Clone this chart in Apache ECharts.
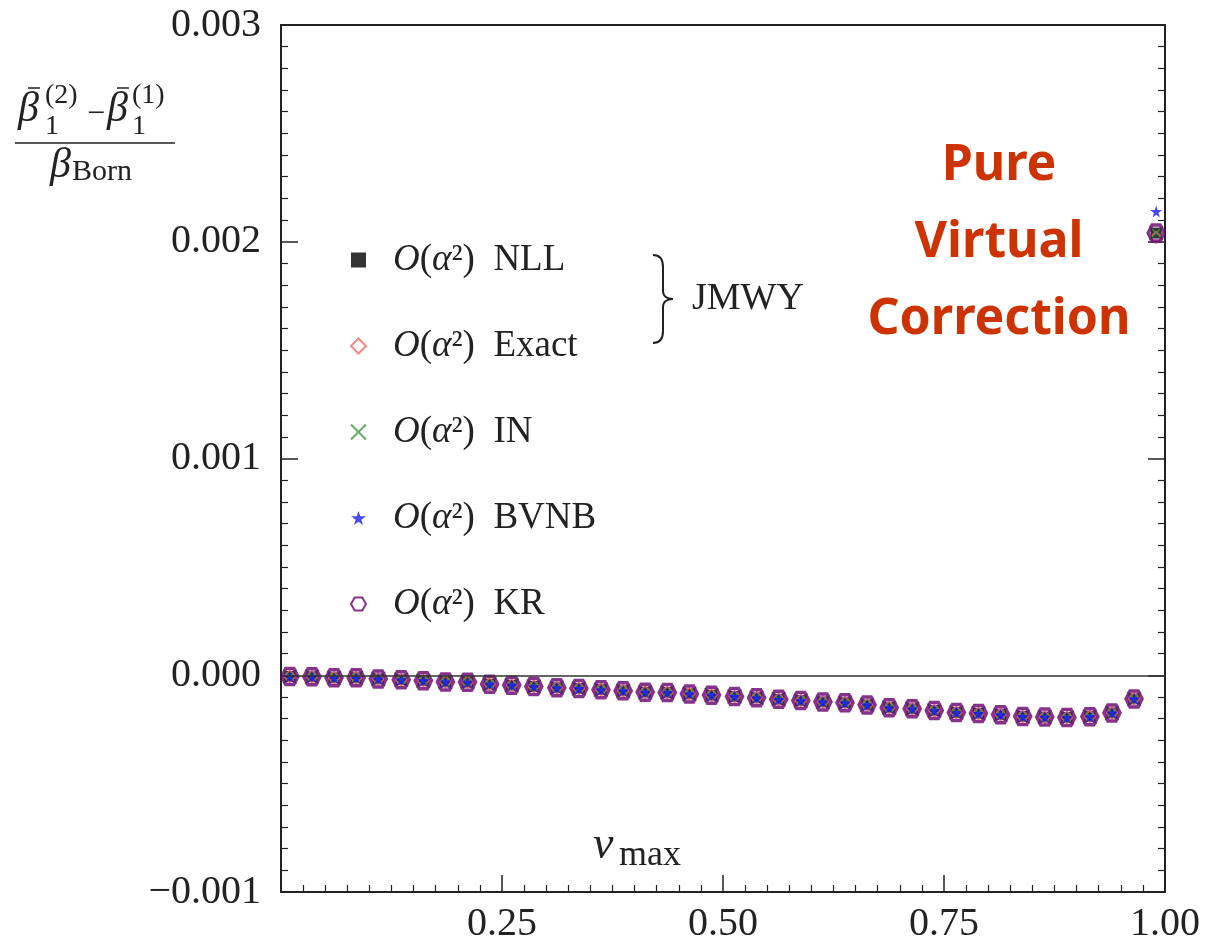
<!DOCTYPE html>
<html>
<head>
<meta charset="utf-8">
<script src="https://cdn.jsdelivr.net/npm/echarts@6.0.0/dist/echarts.min.js"></script>
<style>
  html, body { margin: 0; padding: 0; background: #fff; }
  #main { width: 1212px; height: 944px; }
</style>
</head>
<body>
<div id="main"></div>
<script>
// v_max sample points
const vmax = [0.010, 0.035, 0.060, 0.085, 0.110, 0.136, 0.161, 0.186, 0.211, 0.236,
              0.261, 0.286, 0.312, 0.337, 0.362, 0.387, 0.412, 0.437, 0.462, 0.487,
              0.513, 0.538, 0.563, 0.588, 0.613, 0.638, 0.663, 0.688, 0.714, 0.739,
              0.764, 0.789, 0.814, 0.839, 0.864, 0.889, 0.915, 0.940, 0.965, 0.990];
// all five calculations sit on top of each other below v=0.99
const curve = [-0.000006, -0.000007, -0.000012, -0.000012, -0.000017, -0.000021, -0.000025, -0.000031, -0.000032, -0.000041,
               -0.000046, -0.000052, -0.000058, -0.000061, -0.000067, -0.000072, -0.000078, -0.000080, -0.000086, -0.000092,
               -0.000098, -0.000104, -0.000111, -0.000117, -0.000123, -0.000127, -0.000137, -0.000150, -0.000155, -0.000163,
               -0.000172, -0.000176, -0.000182, -0.000190, -0.000193, -0.000195, -0.000191, -0.000174, -0.000109];
// value at the last point (pure virtual correction), per series
const seriesNames = ['NLL', 'Exact', 'IN', 'BVNB', 'KR'];
const lastValues  = [0.00204, 0.00202, 0.00204, 0.00214, 0.00204];
const yTicks = [-0.001, 0.003, 0.001];   // min, max, interval
const xTicks = [0, 1, 0.25];

const serif = '"Liberation Serif", "DejaVu Serif", serif';
const ink = '#222';

function pts(k) {
  return vmax.map((x, i) => [x, i < curve.length ? curve[i] : lastValues[k]]);
}

const STAR = 'path://M50,0L61,35L98,35L68,57L79,91L50,70L21,91L32,57L2,35L39,35Z';
const HEX = 'path://M25,0L75,0L100,43L75,87L25,87L0,43Z';
const CROSS = 'path://M0,0L10,10M0,10L10,0';

const styles = [
  { symbol: 'rect', symbolSize: 11, z: 2, itemStyle: { color: '#000' } },
  { symbol: 'diamond', symbolSize: 12, z: 2, itemStyle: { color: 'rgba(255,255,255,0)', borderColor: '#f06a6a', borderWidth: 1.5 } },
  { symbol: CROSS, symbolSize: 14, z: 2, itemStyle: { color: 'rgba(255,255,255,0)', borderColor: '#3c9a3c', borderWidth: 1.5 } },
  { symbol: STAR, symbolSize: 12, z: 4, itemStyle: { color: '#1a1aff' } },
  { symbol: HEX, symbolSize: 16, z: 3, itemStyle: { color: 'rgba(255,255,255,0)', borderColor: '#68006e', borderWidth: 3.5 } }
];

const series = seriesNames.map((name, k) => Object.assign({
  name: name,
  type: 'scatter',
  data: pts(k),
  emphasis: { disabled: true },
  silent: true
}, styles[k]));

series[0].markLine = {
  silent: true,
  symbol: ['none', 'none'],
  label: { show: false },
  lineStyle: { color: '#333', width: 1.5, type: 'solid' },
  data: [{ yAxis: 0 }]
};

function t(text, x, y, size, opts) {
  return {
    type: 'text', silent: true,
    style: Object.assign({
      text: text, x: x, y: y,
      font: size + 'px ' + serif,
      fill: ink, verticalAlign: 'middle'
    }, opts || {})
  };
}
function it(text, x, y, size) {
  return t(text, x, y, size, { font: 'italic ' + size + 'px ' + serif });
}
function ln(x1, y1, x2, y2, w) {
  return { type: 'line', silent: true, shape: { x1: x1, y1: y1, x2: x2, y2: y2 }, style: { stroke: ink, lineWidth: w || 1.5 } };
}
function bz(x1, y1, cx1, cy1, cx2, cy2, x2, y2) {
  return {
    type: 'bezierCurve', silent: true,
    shape: { x1: x1, y1: y1, cpx1: cx1, cpy1: cy1, cpx2: cx2, cpy2: cy2, x2: x2, y2: y2 },
    style: { stroke: ink, lineWidth: 2, fill: 'none' }
  };
}

const graphics = [
  // y-axis title as a fraction
  it('β', 18, 110, 42), ln(28, 88, 40, 88, 1.5),
  t('(2)', 45, 96, 28), t('1', 45, 127, 28),
  t('−', 87, 115, 32),
  it('β', 107, 110, 42), ln(117, 88, 129, 88, 1.5),
  t('(1)', 132, 96, 28), t('1', 132, 127, 28),
  ln(15, 143, 175, 143, 1.5),
  it('β', 50, 166, 42), t('Born', 72, 172, 30),
  // x-axis title
  it('v', 593, 846, 46), t('max', 619, 856, 36),
  // brace + JMWY
  bz(653, 255, 660, 255, 663, 259, 663, 267),
  ln(663, 267, 663, 291, 2),
  bz(663, 291, 663, 296, 667, 299, 673, 299),
  bz(673, 299, 667, 299, 663, 302, 663, 307),
  ln(663, 307, 663, 331, 2),
  bz(663, 331, 663, 339, 660, 343, 653, 343),
  t('JMWY', 692, 299, 38),
  // annotation
  {
    type: 'text', silent: true,
    style: {
      text: 'Pure\nVirtual\nCorrection',
      x: 999, y: 243, align: 'center', verticalAlign: 'middle',
      font: 'bold 50px "Comic Sans MS", "Noto Sans", sans-serif',
      lineHeight: 77, fill: '#cc3300'
    }
  }
];

const sideAxis = {
  axisLine: { show: true, onZero: false, lineStyle: { color: ink, width: 2 } },
  axisTick: { show: true, inside: true, length: 17, lineStyle: { color: ink, width: 1.5 } },
  minorTick: { show: true, splitNumber: 10, length: 7, lineStyle: { color: ink, width: 1.2 } },
  splitLine: { show: false }
};

const chart = echarts.init(document.getElementById('main'), null, { renderer: 'canvas' });
chart.setOption({
  animation: false,
  backgroundColor: '#fff',
  grid: { left: 281, right: 47, top: 25, bottom: 51 },
  legend: {
    data: seriesNames,
    orient: 'vertical',
    left: 345, top: 235,
    itemWidth: 15, itemHeight: 15, itemGap: 46,
    selectedMode: false,
    formatter: n => '{i|O}({i|α}²)  ' + n,
    textStyle: {
      fontFamily: serif, fontSize: 37, color: ink, lineHeight: 40,
      padding: [0, 0, 0, 22],
      rich: { i: { fontFamily: serif, fontSize: 37, fontStyle: 'italic', color: ink } }
    }
  },
  xAxis: [Object.assign({
    type: 'value', min: xTicks[0], max: xTicks[1], interval: xTicks[2],
    axisLabel: {
      showMinLabel: false, margin: 12,
      fontFamily: serif, fontSize: 40, color: ink,
      formatter: v => v.toFixed(2)
    }
  }, sideAxis), {
    type: 'value', position: 'top', min: xTicks[0], max: xTicks[1],
    axisLine: { show: true, onZero: false, lineStyle: { color: ink, width: 2 } },
    axisTick: { show: false }, axisLabel: { show: false }, splitLine: { show: false }
  }],
  yAxis: [Object.assign({
    type: 'value', min: yTicks[0], max: yTicks[1], interval: yTicks[2],
    axisLabel: {
      margin: 20, fontFamily: serif, fontSize: 40, color: ink,
      formatter: v => v.toFixed(3).replace('-', '−')
    }
  }, sideAxis), Object.assign({
    type: 'value', position: 'right', min: yTicks[0], max: yTicks[1], interval: yTicks[2],
    axisLabel: { show: false }
  }, sideAxis)],
  series: series,
  graphic: graphics
});
window.addEventListener('resize', () => chart.resize());
</script>
</body>
</html>
